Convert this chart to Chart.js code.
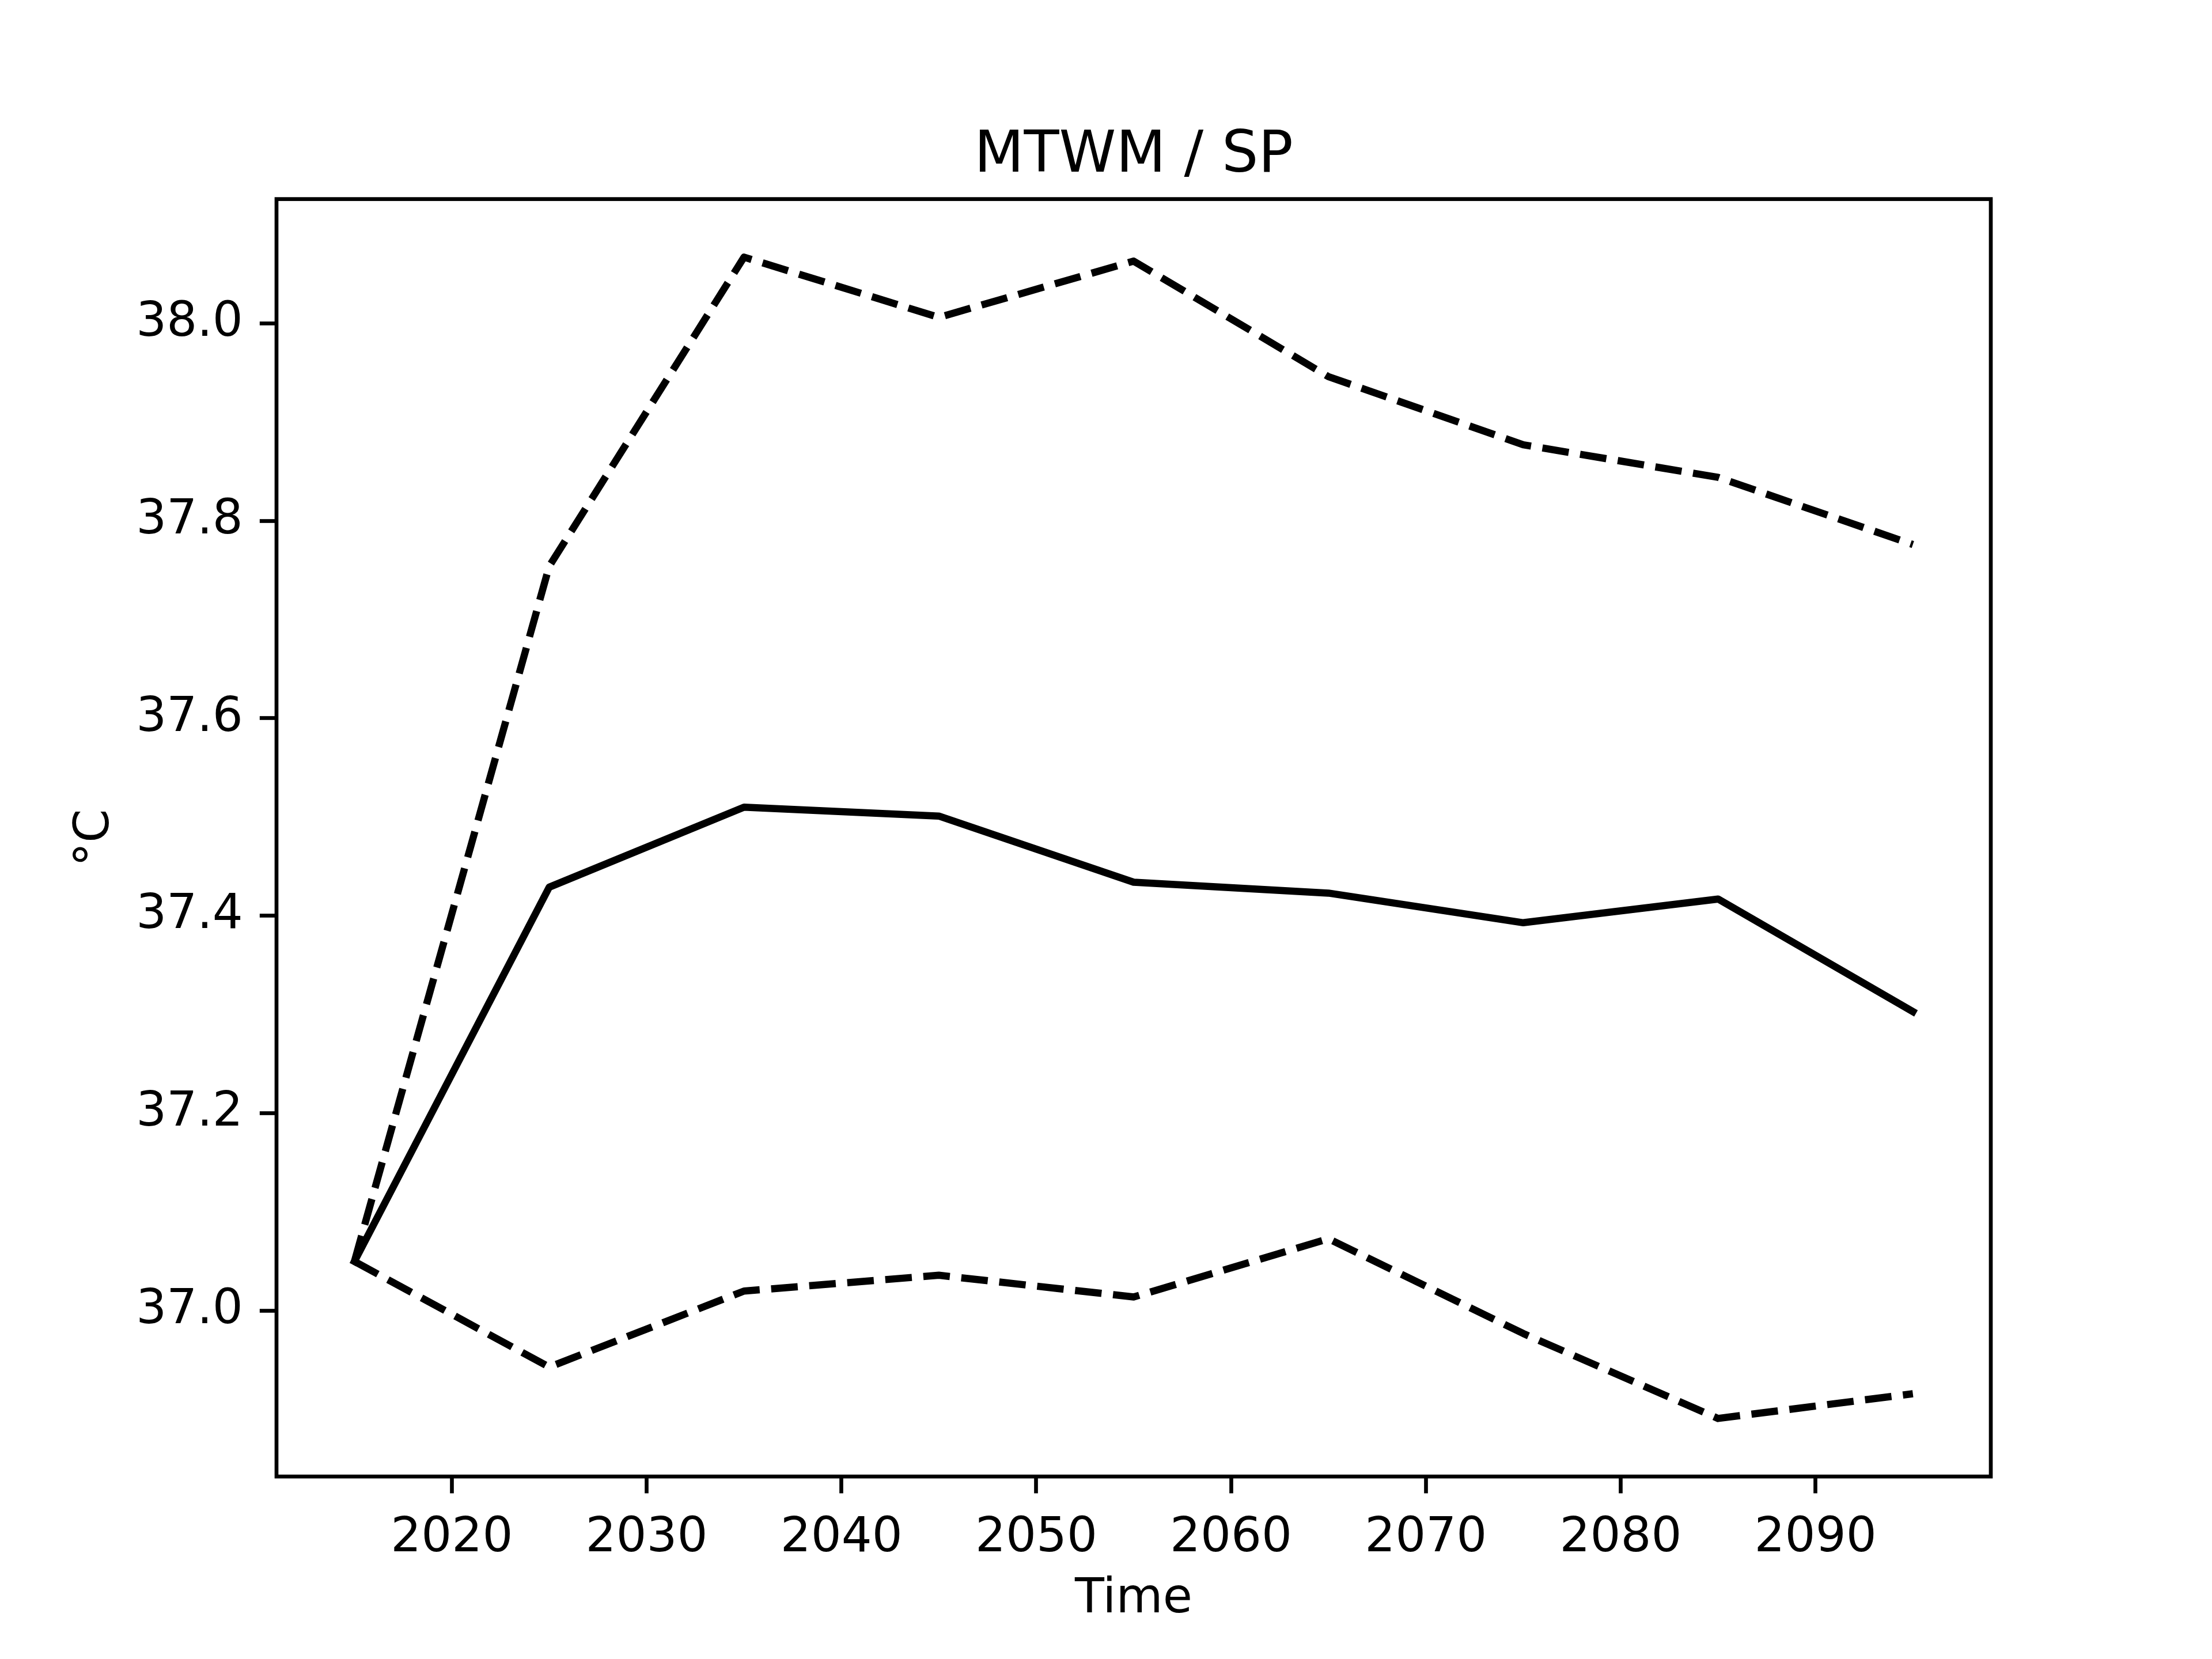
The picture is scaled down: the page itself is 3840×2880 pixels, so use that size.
<!DOCTYPE html>
<html>
<head>
<meta charset="utf-8">
<script src="https://cdn.jsdelivr.net/npm/chart.js@4.4.1/dist/chart.umd.min.js"></script>
<style>
  html, body { margin: 0; padding: 0; background: #fff; }
  #wrap { width: 3840px; height: 2880px; }
</style>
</head>
<body>
<div id="wrap"><canvas id="chart" width="3840" height="2880"></canvas></div>
<script>
// values
const years = [2015, 2025, 2035, 2045, 2055, 2065, 2075, 2085, 2095];
const meanTemp = [37.05, 37.429, 37.51, 37.501, 37.434, 37.423, 37.393, 37.417, 37.303];
const upperTemp = [37.05, 37.754, 38.067, 38.006, 38.063, 37.946, 37.877, 37.844, 37.776];
const lowerTemp = [37.05, 36.943, 37.02, 37.036, 37.014, 37.073, 36.977, 36.891, 36.916];

const xTicks = [2020, 2030, 2040, 2050, 2060, 2070, 2080, 2090];
const yTicks = [37.0, 37.2, 37.4, 37.6, 37.8, 38.0];

const titleText = 'MTWM / SP';
const xLabel = 'Time';
const yLabel = '°C';

// matplotlib-ish sizes at 600 dpi
const PT = 600 / 72;
const LINE_W = 1.5 * PT;
const SPINE_W = 0.8 * PT;
const TICK_LEN = 3.5 * PT;
const FONT_PX = 10 * PT;

function pairs(ys) {
  return years.map((x, i) => ({ x, y: ys[i] }));
}

// 5% margins like matplotlib autoscale
function padded(lo, hi) {
  const m = (hi - lo) * 0.05;
  return [lo - m, hi + m];
}
const allY = [...meanTemp, ...upperTemp, ...lowerTemp];
const [yMin, yMax] = padded(Math.min(...allY), Math.max(...allY));
const [xMin, xMax] = padded(Math.min(...years), Math.max(...years));

const framePlugin = {
  id: 'frame',
  afterDatasetsDraw(chart) {
    const { ctx, chartArea: a } = chart;
    ctx.save();
    ctx.strokeStyle = '#000';
    ctx.lineWidth = SPINE_W;
    ctx.lineJoin = 'miter';
    ctx.strokeRect(a.left, a.top, a.right - a.left, a.bottom - a.top);
    ctx.restore();
  },
};

Chart.defaults.font.family = "'DejaVu Sans', sans-serif";
Chart.defaults.color = '#000';

const dashed = {
  borderColor: '#000',
  borderWidth: LINE_W,
  borderDash: [3.7 * LINE_W, 1.6 * LINE_W],
  borderCapStyle: 'butt',
  borderJoinStyle: 'round',
  pointRadius: 0,
  tension: 0,
};

new Chart(document.getElementById('chart'), {
  type: 'line',
  data: {
    datasets: [
      { label: 'mean', data: pairs(meanTemp), borderColor: '#000', borderWidth: LINE_W,
        borderCapStyle: 'square', borderJoinStyle: 'round', pointRadius: 0, tension: 0 },
      { label: 'upper', data: pairs(upperTemp), ...dashed },
      { label: 'lower', data: pairs(lowerTemp), ...dashed },
    ],
  },
  options: {
    responsive: false,
    devicePixelRatio: 1,
    animation: false,
    parsing: false,
    layout: { padding: { left: 0, right: 384, top: 0, bottom: 0 } },
    plugins: {
      legend: { display: false },
      tooltip: { enabled: false },
      title: {
        display: true,
        fullSize: false,
        text: titleText,
        color: '#000',
        font: { size: 12 * PT, weight: 'normal', lineHeight: 1.2 },
        padding: { top: 212, bottom: 345.6 - 212 - 12 * PT * 1.2 },
      },
    },
    scales: {
      x: {
        type: 'linear',
        min: xMin,
        max: xMax,
        afterBuildTicks: (s) => { s.ticks = xTicks.map((v) => ({ value: v })); },
        afterFit: (s) => { s.height = 2880 * 0.11; },
        grid: { drawOnChartArea: false, tickLength: TICK_LEN, tickWidth: SPINE_W, tickColor: '#000' },
        border: { display: false },
        ticks: { font: { size: FONT_PX }, padding: TICK_LEN, maxRotation: 0, autoSkip: false,
          callback: (v) => String(v) },
        title: { display: true, text: xLabel, font: { size: FONT_PX }, padding: { top: 0, bottom: 53 } },
      },
      y: {
        type: 'linear',
        min: yMin,
        max: yMax,
        afterBuildTicks: (s) => { s.ticks = yTicks.map((v) => ({ value: v })); },
        afterFit: (s) => { s.width = 3840 * 0.125; },
        grid: { drawOnChartArea: false, tickLength: TICK_LEN, tickWidth: SPINE_W, tickColor: '#000' },
        border: { display: false },
        ticks: { font: { size: FONT_PX }, padding: TICK_LEN, autoSkip: false,
          callback: (v) => Number(v).toFixed(1) },
        title: { display: true, text: yLabel, font: { size: FONT_PX }, padding: { top: 116, bottom: 0 } },
      },
    },
  },
  plugins: [framePlugin],
});
</script>
</body>
</html>
